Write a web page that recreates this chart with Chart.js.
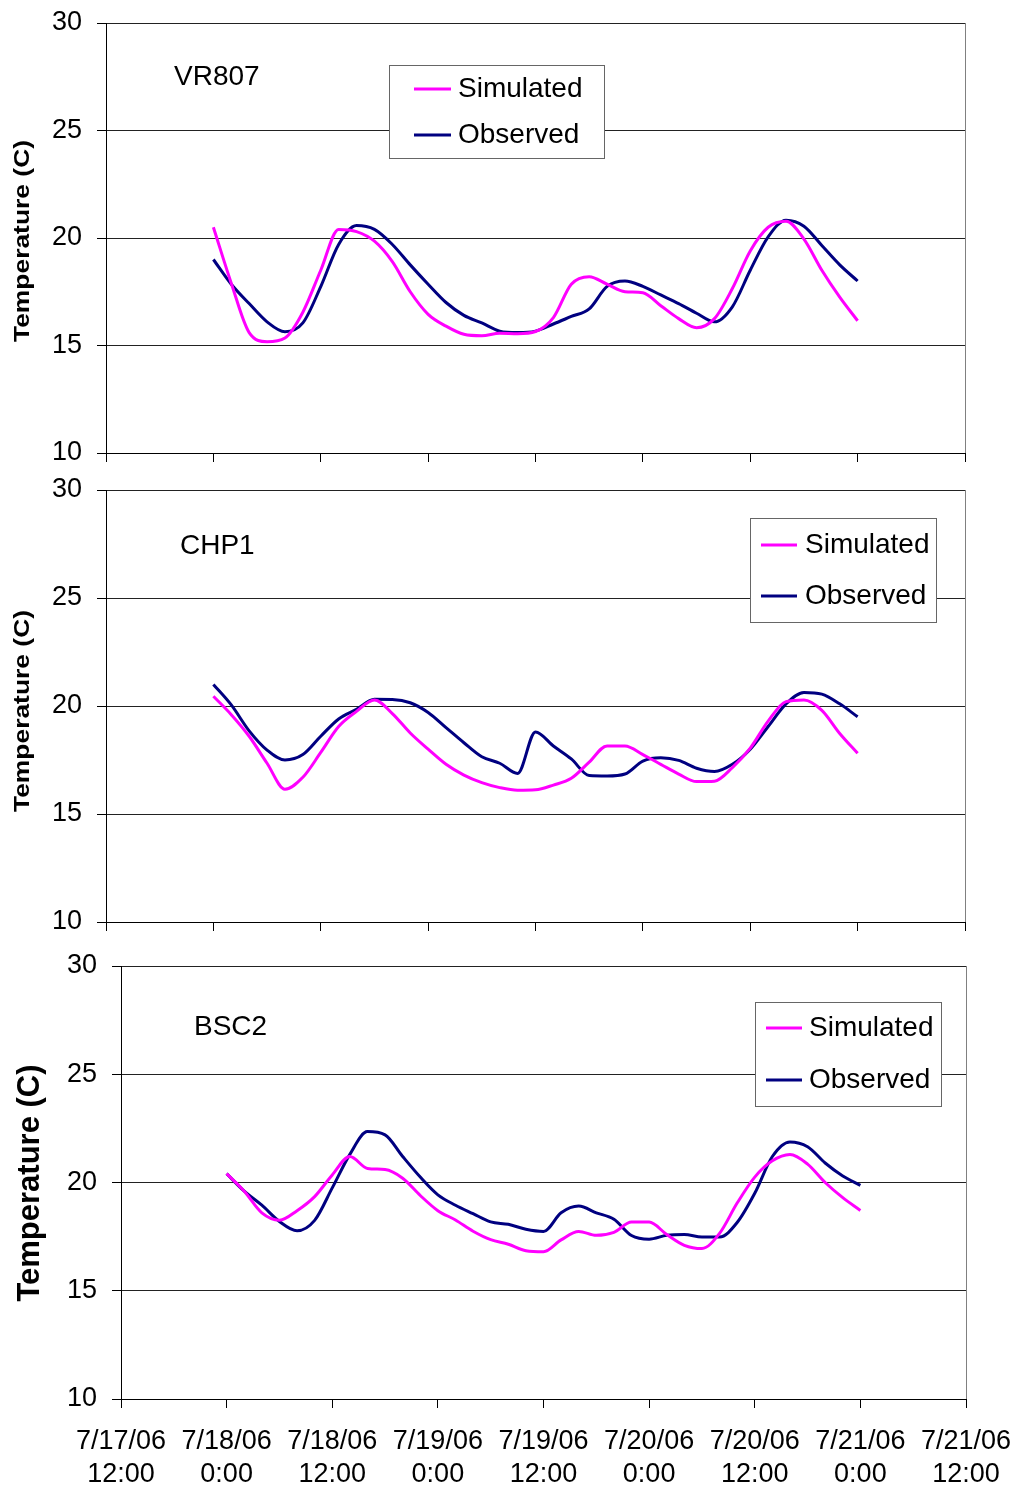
<!DOCTYPE html>
<html>
<head>
<meta charset="utf-8">
<script src="https://cdn.jsdelivr.net/npm/chart.js@4.4.0/dist/chart.umd.min.js"></script>
<style>
  html, body { margin: 0; padding: 0; background: #fff; }
  #wrap { position: relative; width: 1019px; height: 1487px; }
  canvas { position: absolute; left: 0; }
</style>
</head>
<body>
<div id="wrap">
  <canvas id="c1" width="1019" height="470" style="top:0px"></canvas>
  <canvas id="c2" width="1019" height="470" style="top:470px"></canvas>
  <canvas id="c3" width="1019" height="547" style="top:940px"></canvas>
</div>
<script>
// hours since 7/17/06 12:00
const hours = [12, 14, 16, 18, 20, 22, 24, 26, 28, 30, 32, 34, 36, 38, 40, 42, 44, 46, 48,
               50, 52, 54, 56, 58, 60, 62, 64, 66, 68, 70, 72, 74, 76, 78, 80, 82, 84];

const tickLabels = [
  ['7/17/06', '12:00'], ['7/18/06', '0:00'], ['7/18/06', '12:00'], ['7/19/06', '0:00'],
  ['7/19/06', '12:00'], ['7/20/06', '0:00'], ['7/20/06', '12:00'], ['7/21/06', '0:00'],
  ['7/21/06', '12:00']
];

const seriesNames = ['Simulated', 'Observed'];
const yTitle = 'Temperature (C)';

// VR807
const vrSim = [20.5, 17.9, 15.6, 15.18, 15.35, 16.55, 18.5, 20.4, 20.3, 19.85, 18.9, 17.5, 16.45,
               15.9, 15.52, 15.45, 15.57, 15.55, 15.65, 16.3, 17.85, 18.2, 17.85, 17.5, 17.45,
               16.85, 16.25, 15.83, 16.25, 17.65, 19.4, 20.5, 20.78, 19.95, 18.5, 17.25, 16.15];
const vrObs = [19.0, 17.85, 16.95, 16.1, 15.64, 16.05, 17.74, 19.7, 20.58, 20.4, 19.7, 18.75, 17.85,
               17.0, 16.4, 16.05, 15.67, 15.6, 15.67, 16.0, 16.35, 16.7, 17.75, 18.0, 17.75,
               17.35, 16.95, 16.5, 16.1, 16.8, 18.5, 20.05, 20.83, 20.55, 19.65, 18.75, 18.0];

// CHP1
const chpSim = [20.45, 19.6, 18.6, 17.35, 16.15, 16.7, 17.85, 19.05, 19.75, 20.28, 19.65, 18.75, 18.0,
                17.3, 16.8, 16.45, 16.22, 16.1, 16.12, 16.34, 16.65, 17.4, 18.15, 18.15, 17.75,
                17.3, 16.85, 16.5, 16.52, 17.15, 18.05, 19.3, 20.2, 20.28, 19.8, 18.73, 17.81];
const chpObs = [21.0, 20.05, 18.85, 17.96, 17.5, 17.75, 18.6, 19.4, 19.85, 20.31, 20.3, 20.15, 19.7,
                19.0, 18.3, 17.65, 17.35, 16.88, 18.8, 18.15, 17.55, 16.78, 16.76, 16.85, 17.45,
                17.6, 17.48, 17.12, 16.97, 17.3, 18.0, 19.05, 20.1, 20.63, 20.55, 20.1, 19.5];

// BSC2
const bscSim = [20.41, 19.6, 18.6, 18.26, 18.7, 19.35, 20.35, 21.2, 20.65, 20.6, 20.2, 19.4, 18.7,
                18.27, 17.75, 17.36, 17.15, 16.85, 16.8, 17.35, 17.74, 17.56, 17.7, 18.17, 18.17,
                17.6, 17.1, 16.95, 17.65, 19.05, 20.25, 21.0, 21.29, 20.85, 20.0, 19.3, 18.71];
const bscObs = [20.41, 19.6, 18.95, 18.2, 17.77, 18.25, 19.75, 21.3, 22.35, 22.2, 21.2, 20.25, 19.43,
                18.95, 18.56, 18.18, 18.07, 17.84, 17.74, 18.6, 18.91, 18.6, 18.3, 17.55, 17.38,
                17.56, 17.6, 17.48, 17.48, 18.15, 19.5, 21.2, 21.87, 21.65, 20.9, 20.3, 19.87];

const FONT = '"Liberation Sans", Arial, sans-serif';
Chart.defaults.font.family = FONT;
Chart.defaults.color = '#000';

// station name, y title, legend box and right border
const panelDeco = {
  id: 'panelDeco',
  afterDraw(chart, args, o) {
    const ctx = chart.ctx;
    const a = chart.chartArea;
    ctx.save();

    ctx.strokeStyle = '#808080';
    ctx.lineWidth = 1;
    ctx.beginPath();
    ctx.moveTo(Math.round(a.right) + 0.5, a.top);
    ctx.lineTo(Math.round(a.right) + 0.5, a.bottom);
    ctx.stroke();

    ctx.fillStyle = '#000';
    ctx.font = '28px ' + FONT;
    ctx.textAlign = 'left';
    ctx.textBaseline = 'middle';
    ctx.fillText(o.station, o.stationX, o.stationY);

    ctx.save();
    ctx.font = 'bold ' + o.titleSize + 'px ' + FONT;
    ctx.translate(o.titleX, o.titleY);
    ctx.rotate(-Math.PI / 2);
    const tw = ctx.measureText(yTitle).width;
    ctx.scale(o.titleLen ? o.titleLen / tw : 1, 1);
    ctx.textAlign = 'center';
    ctx.fillText(yTitle, 0, 0);
    ctx.restore();

    const L = o.legend;
    ctx.fillStyle = '#fff';
    ctx.fillRect(L.x, L.y, L.w, L.h);
    ctx.strokeStyle = '#666';
    ctx.lineWidth = 1;
    ctx.strokeRect(L.x + 0.5, L.y + 0.5, L.w, L.h);
    chart.data.datasets.forEach((ds, i) => {
      const y = L.rows[i];
      ctx.strokeStyle = ds.borderColor;
      ctx.lineWidth = 3;
      ctx.beginPath();
      ctx.moveTo(L.x0, y);
      ctx.lineTo(L.x1, y);
      ctx.stroke();
      ctx.fillStyle = '#000';
      ctx.font = '28px ' + FONT;
      ctx.fillText(ds.label, L.tx, y);
    });
    ctx.restore();
  }
};

function pts(vals) {
  return hours.map((h, i) => ({ x: h, y: vals[i] }));
}

function makePanel(id, sim, obs, cfg) {
  return new Chart(document.getElementById(id), {
    type: 'line',
    data: {
      datasets: [
        { label: seriesNames[0], data: pts(sim), borderColor: '#FF00FF', borderWidth: 3,
          pointRadius: 0, cubicInterpolationMode: 'monotone', fill: false },
        { label: seriesNames[1], data: pts(obs), borderColor: '#000080', borderWidth: 3,
          pointRadius: 0, cubicInterpolationMode: 'monotone', fill: false }
      ]
    },
    options: {
      responsive: false,
      animation: false,
      layout: { padding: { top: cfg.padTop, right: cfg.padRight, bottom: 0, left: 0 } },
      plugins: {
        legend: { display: false },
        tooltip: { enabled: false },
        panelDeco: cfg.deco
      },
      scales: {
        x: {
          type: 'linear', min: 0, max: 96,
          ticks: {
            stepSize: 12, display: cfg.showX, autoSkip: false, maxRotation: 0,
            padding: 17, color: '#000',
            font: { size: 27, lineHeight: 1.233 },
            callback: v => tickLabels[v / 12]
          },
          grid: { drawOnChartArea: false, drawTicks: true, tickLength: 9, tickColor: '#000' },
          border: { color: '#000', width: 1 },
          afterFit: s => {
            s.height = cfg.xHeight;
            s.paddingLeft = 0;
            s.paddingRight = 0;
          }
        },
        y: {
          min: 10, max: 30,
          ticks: { stepSize: 5, padding: 15, color: '#000', font: { size: 27 } },
          grid: { color: '#222', tickLength: 9, tickColor: '#000' },
          border: { color: '#000', width: 1 },
          afterFit: s => {
            s.width = cfg.yWidth;
            s.paddingTop = 0;
            s.paddingBottom = 0;
          }
        }
      }
    },
    plugins: [panelDeco]
  });
}

makePanel('c1', vrSim, vrObs, {
  padTop: 23, padRight: 54, xHeight: 17, yWidth: 106, showX: false,
  deco: {
    station: 'VR807', stationX: 174, stationY: 77,
    titleX: 23, titleY: 241, titleSize: 22, titleLen: 202,
    legend: { x: 389, y: 65, w: 215, h: 93, rows: [89, 135], x0: 414, x1: 451, tx: 458 }
  }
});

makePanel('c2', chpSim, chpObs, {
  padTop: 20, padRight: 54, xHeight: 18, yWidth: 106, showX: false,
  deco: {
    station: 'CHP1', stationX: 180, stationY: 76,
    titleX: 23, titleY: 241, titleSize: 22, titleLen: 202,
    legend: { x: 750, y: 48, w: 186, h: 104, rows: [75, 126], x0: 761, x1: 797, tx: 805 }
  }
});

makePanel('c3', bscSim, bscObs, {
  padTop: 26, padRight: 53, xHeight: 88, yWidth: 121, showX: true,
  deco: {
    station: 'BSC2', stationX: 194, stationY: 87,
    titleX: 30, titleY: 243, titleSize: 31, titleLen: 0,
    legend: { x: 755, y: 62, w: 186, h: 104, rows: [88, 140], x0: 766, x1: 802, tx: 809 }
  }
});
</script>
</body>
</html>
